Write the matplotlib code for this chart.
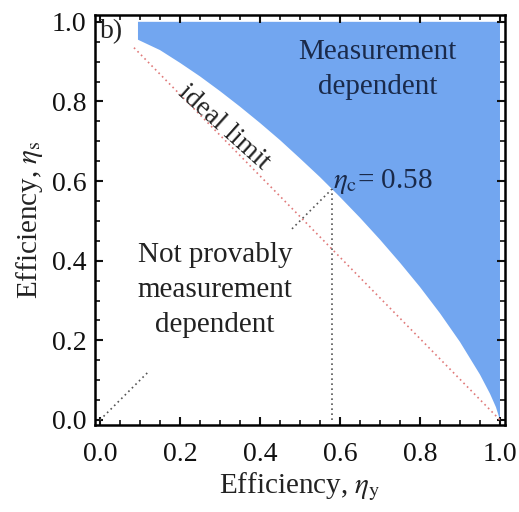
import matplotlib
matplotlib.use("Agg")
import matplotlib.pyplot as plt
from matplotlib.ticker import MultipleLocator

plt.rcParams['font.family'] = ['Liberation Serif', 'DejaVu Serif']
plt.rcParams['mathtext.fontset'] = 'stix'

curve_x = [0.095, 0.095, 0.15, 0.2, 0.25, 0.3, 0.35, 0.4, 0.45, 0.5, 0.55, 0.58, 0.6,
           0.65, 0.7, 0.75, 0.8, 0.85, 0.9, 0.95, 0.975, 0.99, 1.0]
curve_y = [1.0, 0.955, 0.929, 0.897, 0.863, 0.826, 0.787, 0.746, 0.703, 0.657, 0.610, 0.58, 0.560,
           0.508, 0.453, 0.395, 0.334, 0.268, 0.196, 0.114, 0.066, 0.032, 0.0]

ideal_x = [0.085, 1.0]
ideal_y = [0.935, 0.0]

diag_lo = [0.0, 0.12]
diag_hi = [0.48, 0.58]
eta_c = 0.58

ticks = [0.0, 0.2, 0.4, 0.6, 0.8, 1.0]

fig = plt.figure(figsize=(5.19, 5.12), dpi=100)
ax = fig.add_axes([0.183, 0.170, 0.790, 0.801])

# blue region
ax.fill(curve_x + [1.0], curve_y + [1.0], color="#72a6f0", lw=0)

ax.plot(ideal_x, ideal_y, ls=(0, (1, 2)), color="#e07a7a", lw=1.2)
ax.plot(diag_lo, diag_lo, ls=(0, (1, 2)), color="#555555", lw=1.2)
ax.plot(diag_hi, diag_hi, ls=(0, (1, 2)), color="#555555", lw=1.2)
ax.plot([eta_c, eta_c], [0, eta_c], ls=(0, (1, 2)), color="#555555", lw=1.2)

ax.text(0.694, 0.88, "Measurement\ndependent", ha="center", va="center",
        fontsize=21, color="#1a2a4a", linespacing=1.45)
ax.text(0.583, 0.60, r"$\eta_{\rm c}$= 0.58", ha="left", va="center", fontsize=21, color="#1a2a4a")
ax.text(0.2875, 0.327, "Not provably\nmeasurement\ndependent", ha="center", va="center",
        fontsize=21, color="#222222", linespacing=1.45)
ax.text(0.31, 0.735, "ideal limit", ha="center", va="center", rotation=-42,
        fontsize=20, color="#222222")
ax.text(0.0, 0.975, "b)", ha="left", va="center", fontsize=20, color="#222222")

ax.set_xlim(-0.0125, 1.0125)
ax.set_ylim(-0.0125, 1.0175)
ax.set_xticks(ticks)
ax.set_yticks(ticks)
ax.xaxis.set_minor_locator(MultipleLocator(0.05))
ax.yaxis.set_minor_locator(MultipleLocator(0.05))
ax.tick_params(which="both", direction="in", top=True, right=True, labelsize=20, colors="#111111")
ax.tick_params(axis="x", which="major", pad=12)
ax.tick_params(axis="y", which="major", pad=6)
ax.tick_params(which="major", length=6, width=1.5)
ax.tick_params(which="minor", length=3.5, width=1.2)
for s in ax.spines.values():
    s.set_linewidth(1.8)

ax.set_xlabel(r"Efficiency, $\eta_{\rm y}$", fontsize=21, color="#222222", labelpad=3)
ax.set_ylabel(r"Efficiency, $\eta_{\rm s}$", fontsize=21, color="#222222", labelpad=5)

fig.savefig("out.png", dpi=100)
